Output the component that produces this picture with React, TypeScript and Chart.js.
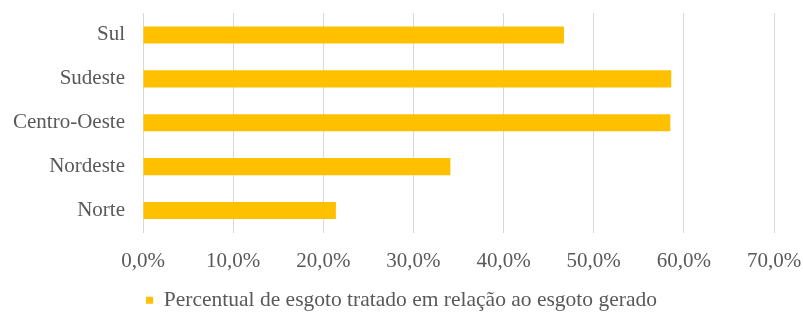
import React, { useEffect, useRef } from "react";
import { Chart, registerables } from "chart.js";

Chart.register(...registerables);

const categories = ["Sul", "Sudeste", "Centro-Oeste", "Nordeste", "Norte"];
const values = [46.7, 58.6, 58.5, 34.1, 21.4];
const seriesLabel = "Percentual de esgoto tratado em relação ao esgoto gerado";
const xMin = 0;
const xMax = 70;
const xStep = 10;

const FONT = "'Liberation Serif', 'Times New Roman', serif";
const GREY = "#595959";

export default function App() {
  const ref = useRef<HTMLCanvasElement>(null);
  useEffect(() => {
    document.body.style.margin = "0";
    const chart = new Chart(ref.current!, {
      type: "bar",
      data: {
        labels: categories,
        datasets: [
          {
            label: seriesLabel,
            data: values,
            backgroundColor: "#FFC000",
            borderWidth: 0,
            barPercentage: 0.39,
            categoryPercentage: 1,
          },
        ],
      },
      options: {
        indexAxis: "y",
        animation: false,
        responsive: false,
        devicePixelRatio: 1,
        layout: { padding: { top: 13, right: 0, left: 0, bottom: -5 } },
        scales: {
          x: {
            min: xMin,
            max: xMax,
            ticks: {
              stepSize: xStep,
              color: GREY,
              font: { family: FONT, size: 21 },
              padding: 0,
              callback: (v: any) => Number(v).toFixed(1).replace(".", ",") + "%",
            },
            grid: { color: "#d9d9d9", drawTicks: true, tickLength: 16, tickColor: "rgba(0,0,0,0)" },
            border: { display: false },
            afterFit: (scale: any) => {
              scale.height = 54;
              scale.paddingRight = 29;
            },
          },
          y: {
            ticks: {
              color: GREY,
              font: { family: FONT, size: 21 },
              padding: 0,
            },
            grid: {
              display: true,
              drawOnChartArea: false,
              drawTicks: true,
              tickLength: 18,
              tickColor: "rgba(0,0,0,0)",
            },
            border: { display: false },
            afterFit: (scale: any) => {
              scale.width = 143;
            },
          },
        },
        plugins: {
          legend: {
            position: "bottom",
            labels: {
              color: GREY,
              font: { family: FONT, size: 21.5 },
              boxWidth: 7,
              boxHeight: 7,
              padding: 3,
            },
          },
          tooltip: { enabled: false },
        },
      },
    });
    return () => chart.destroy();
  }, []);
  return <canvas ref={ref} width={803} height={316} style={{ display: "block" }} />;
}
